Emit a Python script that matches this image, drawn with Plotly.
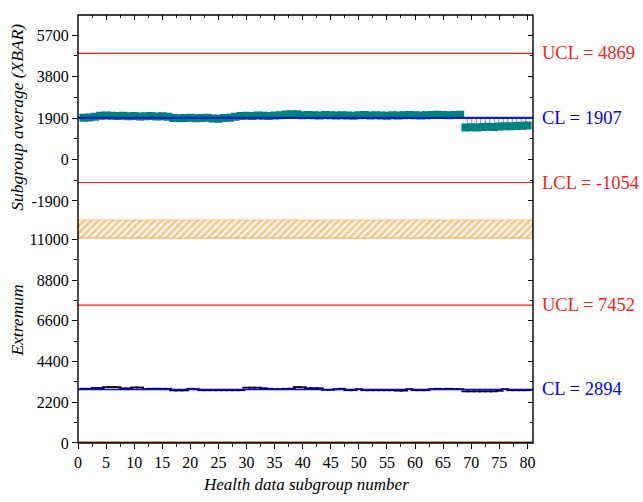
import plotly.graph_objs as go

# subgroup numbers
subgroups = list(range(1, 81))

# subgroup averages (XBAR)
xbar = [1920, 1930, 1960,
        2010, 2020, 2010, 2000, 2010,
        1980, 1990, 1970, 1980, 1990, 1970, 1980, 1960,
        1900, 1890, 1900, 1910, 1890, 1900, 1910, 1880, 1870, 1900, 1920, 1960,
        2000, 2010, 2000, 2020, 2010, 2000, 2020, 2030, 2060,
        2080, 2070, 2030,
        2040, 2030, 2020, 2040, 2030, 2020, 2030, 2020, 2010, 2030, 2040, 2020, 2030, 2020,
        2010, 2030, 2020, 2030, 2040, 2030, 2020, 2030, 2040, 2050, 2040, 2030, 2040, 2050,
        1470, 1480, 1470, 1490, 1500, 1490, 1510, 1520, 1530, 1540, 1550, 1560]

# subgroup extremum (range)
extremum = [2930, 2930, 2970, 2970, 3020, 3020, 3020, 2950, 2950, 3000,
            3000, 2910, 2930, 2930, 2930, 2930, 2840, 2840, 2840, 2930,
            2910, 2850, 2850, 2850, 2850, 2850, 2850, 2850, 2850, 2990,
            2990, 2990, 2960, 2930, 2910, 2910, 2930, 2930, 3020, 3010,
            2960, 2960, 2960, 2870, 2870, 2910, 2930, 2850, 2850, 2910,
            2850, 2850, 2850, 2850, 2850, 2850, 2830, 2830, 2910, 2850,
            2850, 2850, 2910, 2930, 2910, 2930, 2910, 2910, 2790, 2790,
            2790, 2790, 2790, 2790, 2820, 2910, 2850, 2850, 2850, 2850]

# control limits
xbar_ucl, xbar_cl, xbar_lcl = 4869, 1907, -1054
ext_ucl, ext_cl, ext_lcl = 7452, 2894, 0

# tick labels
xbar_ticks = [-1900, 0, 1900, 3800, 5700]
xbar_ticktext = ['-1900', '0', '1900', '3800', '5700']
ext_ticks = [0, 2200, 4400, 6600, 8800, 11000]
ext_ticktext = ['0', '2200', '4400', '6600', '8800', '11000']
x_ticks = list(range(0, 81, 5))

x_range = [0, 81]
xbar_range = [-2757, 6625]
ext_range = [0, 11053]

serif = 'Liberation Serif, Times New Roman, serif'
teal = '#00827f'
red = '#ff1a1a'
blue = '#0000ff'
orange = '#ff8a10'

d_low = 0.478
d_high = 0.5218

traces = []

# hatched area between CL and the averages
traces.append(go.Bar(x=subgroups, y=[v - xbar_cl for v in xbar], base=xbar_cl, width=1,
                     marker=dict(color='white', line=dict(width=0),
                                 pattern=dict(shape='|', fgcolor=blue, bgcolor='white',
                                              size=4.5, solidity=0.22)),
                     xaxis='x', yaxis='y2', showlegend=False, hoverinfo='skip'))

# averages as thick step segments
traces.append(go.Scatter(x=subgroups, y=xbar, mode='markers',
                         marker=dict(symbol='line-ew', size=6, color=teal,
                                     line=dict(width=8, color=teal)),
                         xaxis='x', yaxis='y2', showlegend=False))

# extremum segments
traces.append(go.Scatter(x=subgroups, y=extremum, mode='markers',
                         marker=dict(symbol='line-ew', size=6, color='black',
                                     line=dict(width=1.8, color='black')),
                         xaxis='x', yaxis='y', showlegend=False))

# axis break band
traces.append(go.Scatter(x=[x_range[0], x_range[1], x_range[1], x_range[0], x_range[0]],
                         y=[0, 0, 1, 1, 0], mode='lines', fill='toself',
                         fillcolor='white',
                         fillpattern=dict(shape='/', fgcolor=orange, bgcolor='white',
                                          size=5, solidity=0.55),
                         line=dict(color=orange, width=1.4),
                         xaxis='x', yaxis='y5', showlegend=False, hoverinfo='skip'))

# empty traces so the mirrored tick axes exist
traces.append(go.Scatter(x=[], y=[], xaxis='x', yaxis='y3', showlegend=False))
traces.append(go.Scatter(x=[], y=[], xaxis='x', yaxis='y4', showlegend=False))
traces.append(go.Scatter(x=[], y=[], xaxis='x2', yaxis='y2', showlegend=False))

tickfont = dict(family=serif, size=16, color='black')


def yax(domain, rng, vals, text, minor_dtick, side='left', overlay=None, labels=True):
    ax = dict(domain=domain, range=rng, tickmode='array', tickvals=vals, ticktext=text,
              ticks='outside' if side == 'left' else 'inside', ticklen=5, tickwidth=1.2,
              tickcolor='black', showticklabels=labels, tickfont=tickfont,
              minor=dict(tickmode='linear', tick0=0, dtick=minor_dtick,
                         ticks='outside' if side == 'left' else 'inside',
                         ticklen=3, tickwidth=1.2, tickcolor='black', showgrid=False),
              showgrid=False, zeroline=False, showline=False, anchor='x', side=side,
              fixedrange=True)
    if overlay:
        ax['overlaying'] = overlay
        ax.pop('domain')
    return ax


layout = go.Layout(
    width=643, height=502,
    margin=dict(l=78, r=110, t=8, b=59),
    paper_bgcolor='white', plot_bgcolor='white',
    bargap=0, barmode='overlay',
    font=dict(family=serif, color='black'),
    xaxis=dict(domain=[0, 1], range=x_range, anchor='y', tickmode='array', tickvals=x_ticks,
               ticks='outside', ticklen=5, tickwidth=1.2, tickcolor='black',
               minor=dict(tickmode='linear', tick0=0, dtick=2.5, ticks='outside',
                          ticklen=3, tickwidth=1.2, tickcolor='black'),
               tickfont=tickfont, showgrid=False, zeroline=False, showline=False),
    xaxis2=dict(overlaying='x', range=x_range, anchor='y2', side='top', tickmode='array',
                tickvals=x_ticks, ticks='inside', ticklen=5, tickwidth=1.2,
                tickcolor='black', showticklabels=False,
                minor=dict(tickmode='linear', tick0=0, dtick=2.5, ticks='inside',
                           ticklen=3, tickwidth=1.2, tickcolor='black'),
                showgrid=False, zeroline=False, showline=False),
    yaxis=yax([0, d_low], ext_range, ext_ticks, ext_ticktext, 1100),
    yaxis2=yax([d_high, 1], xbar_range, xbar_ticks, xbar_ticktext, 950),
    yaxis3=yax(None, ext_range, ext_ticks, ext_ticktext, 1100, side='right',
               overlay='y', labels=False),
    yaxis4=yax(None, xbar_range, xbar_ticks, xbar_ticktext, 950, side='right',
               overlay='y2', labels=False),
    yaxis5=dict(domain=[d_low, d_high], range=[0, 1], anchor='x', visible=False),
)

fig = go.Figure(data=traces, layout=layout)

# control limit lines
limit_lines = [('y2', xbar_ucl, red, 1.2), ('y2', xbar_cl, '#0a1fd0', 2.2),
               ('y2', xbar_lcl, red, 1.2), ('y', ext_ucl, red, 1.2),
               ('y', ext_cl, blue, 1.6), ('y', ext_lcl, '#a82424', 3)]
for yref, val, col, w in limit_lines:
    fig.add_shape(type='line', xref='x domain', x0=0, x1=1, yref=yref, y0=val, y1=val,
                  line=dict(color=col, width=w), layer='above')

# frame
fig.add_shape(type='rect', xref='paper', yref='paper', x0=0, x1=1, y0=0, y1=1,
              line=dict(color='black', width=1.4), layer='above')

# limit labels
labels = [('y2', xbar_ucl, f'UCL = {xbar_ucl}', red), ('y2', xbar_cl, f'CL = {xbar_cl}', blue),
          ('y2', xbar_lcl, f'LCL = {xbar_lcl}', red), ('y', ext_ucl, f'UCL = {ext_ucl}', red),
          ('y', ext_cl, f'CL = {ext_cl}', blue)]
for yref, val, txt, col in labels:
    fig.add_annotation(x=1.0155, xref='paper', y=val, yref=yref, text=txt, showarrow=False,
                       xanchor='left', yanchor='middle',
                       font=dict(family=serif, size=18.5, color=col))

# axis titles
fig.add_annotation(x=-0.134, xref='paper', y=0.76, yref='paper',
                   text='<i>Subgroup average (XBAR)</i>', textangle=-90, showarrow=False,
                   xanchor='center', yanchor='middle',
                   font=dict(family=serif, size=17.5, color='black'))
fig.add_annotation(x=-0.134, xref='paper', y=0.286, yref='paper',
                   text='<i>Extremum</i>', textangle=-90, showarrow=False,
                   xanchor='center', yanchor='middle',
                   font=dict(family=serif, size=17.5, color='black'))
fig.add_annotation(x=0.5, xref='paper', y=-0.0966, yref='paper',
                   text='<i>Health data subgroup number</i>', showarrow=False,
                   xanchor='center', yanchor='middle',
                   font=dict(family=serif, size=17, color='black'))

# drop the default page margin so the figure sits at the window corner
fig.write_html("out.html", config={'displayModeBar': False},
               post_script="document.body.style.margin='0';document.body.style.overflow='hidden';")
